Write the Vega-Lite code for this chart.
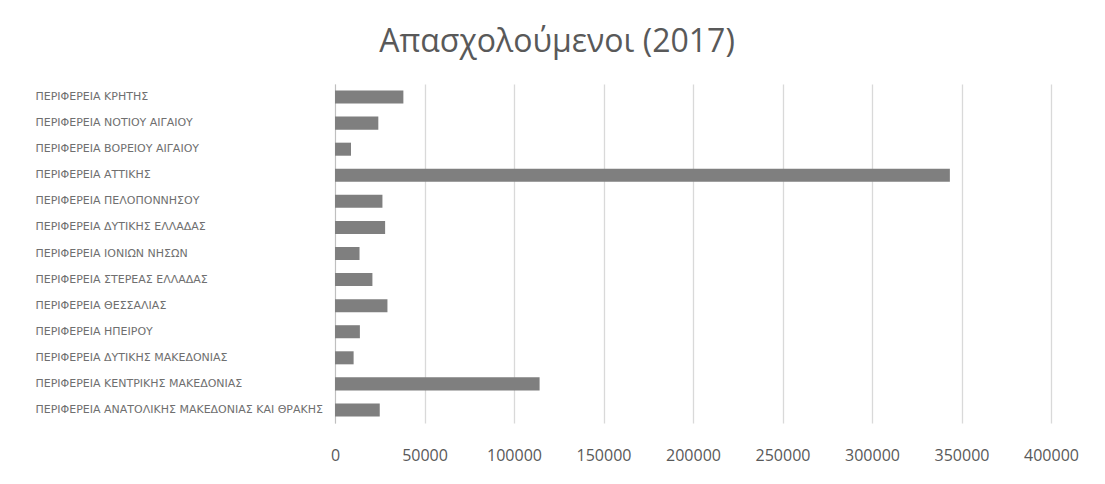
{
  "$schema": "https://vega.github.io/schema/vega-lite/v6.json",
  "autosize": {"type": "none"},
  "width": 716,
  "height": 339,
  "padding": {"left": 335, "top": 84, "right": 54, "bottom": 61},
  "background": "#ffffff",
  "title": {
    "text": "Απασχολούμενοι (2017)",
    "font": "Open Sans",
    "fontSize": 32,
    "fontWeight": "normal",
    "color": "#595959",
    "anchor": "middle",
    "frame": "group",
    "baseline": "alphabetic",
    "offset": 0,
    "dx": -136
  },
  "data": {
    "values": [
      {"region": "ΠΕΡΙΦΕΡΕΙΑ ΚΡΗΤΗΣ", "employed": 38200},
      {"region": "ΠΕΡΙΦΕΡΕΙΑ ΝΟΤΙΟΥ ΑΙΓΑΙΟΥ", "employed": 24200},
      {"region": "ΠΕΡΙΦΕΡΕΙΑ ΒΟΡΕΙΟΥ ΑΙΓΑΙΟΥ", "employed": 8950},
      {"region": "ΠΕΡΙΦΕΡΕΙΑ ΑΤΤΙΚΗΣ", "employed": 343500},
      {"region": "ΠΕΡΙΦΕΡΕΙΑ ΠΕΛΟΠΟΝΝΗΣΟΥ", "employed": 26500},
      {"region": "ΠΕΡΙΦΕΡΕΙΑ ΔΥΤΙΚΗΣ ΕΛΛΑΔΑΣ", "employed": 28000},
      {"region": "ΠΕΡΙΦΕΡΕΙΑ ΙΟΝΙΩΝ ΝΗΣΩΝ", "employed": 13700},
      {"region": "ΠΕΡΙΦΕΡΕΙΑ ΣΤΕΡΕΑΣ ΕΛΛΑΔΑΣ", "employed": 20900},
      {"region": "ΠΕΡΙΦΕΡΕΙΑ ΘΕΣΣΑΛΙΑΣ", "employed": 29300},
      {"region": "ΠΕΡΙΦΕΡΕΙΑ ΗΠΕΙΡΟΥ", "employed": 13900},
      {"region": "ΠΕΡΙΦΕΡΕΙΑ ΔΥΤΙΚΗΣ ΜΑΚΕΔΟΝΙΑΣ", "employed": 10400},
      {"region": "ΠΕΡΙΦΕΡΕΙΑ ΚΕΝΤΡΙΚΗΣ ΜΑΚΕΔΟΝΙΑΣ", "employed": 114300},
      {"region": "ΠΕΡΙΦΕΡΕΙΑ ΑΝΑΤΟΛΙΚΗΣ ΜΑΚΕΔΟΝΙΑΣ ΚΑΙ ΘΡΑΚΗΣ", "employed": 25000}
    ]
  },
  "mark": {"type": "bar", "color": "#7f7f7f"},
  "encoding": {
    "y": {
      "field": "region",
      "type": "nominal",
      "sort": null,
      "title": null,
      "scale": {"paddingInner": 0.5, "paddingOuter": 0.25},
      "axis": {
        "ticks": false,
        "tickSize": 0,
        "domain": true,
        "domainColor": "#bfbfbf",
        "domainWidth": 1,
        "grid": false,
        "labelAlign": "left",
        "labelPadding": 300,
        "labelFont": "DejaVu Sans",
        "labelFontSize": 11,
        "labelColor": "#6f6f6f",
        "labelLimit": 400
      }
    },
    "x": {
      "field": "employed",
      "type": "quantitative",
      "title": null,
      "scale": {"domain": [0, 400000], "nice": false},
      "axis": {
        "values": [0, 50000, 100000, 150000, 200000, 250000, 300000, 350000, 400000],
        "format": "d",
        "domain": false,
        "ticks": false,
        "tickSize": 0,
        "grid": true,
        "gridColor": "#d9d9d9",
        "gridWidth": 1.3,
        "labelFont": "Open Sans",
        "labelFontSize": 16,
        "labelColor": "#595959",
        "labelBaseline": "middle",
        "labelPadding": 32,
        "labelFlush": false
      }
    }
  },
  "config": {"view": {"stroke": null}}
}
